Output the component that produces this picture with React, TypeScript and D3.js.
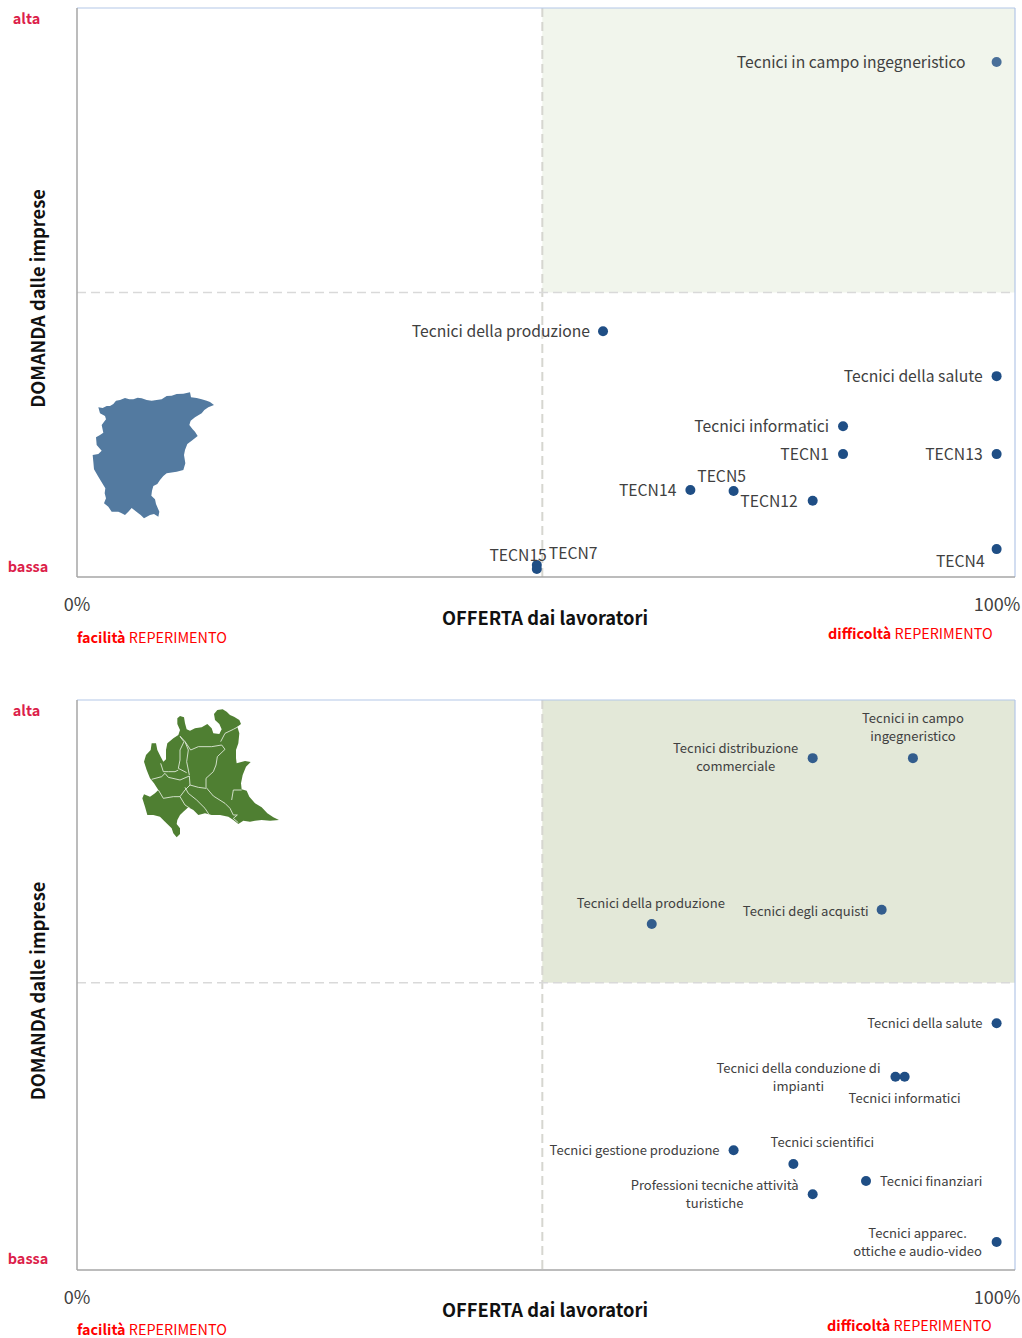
import React from "react";
import * as d3 from "d3";

const FONT = "'Noto Sans CJK SC', 'Noto Sans', sans-serif";

// Panel 1
const names1 = ["Tecnici in campo ingegneristico", "Tecnici della produzione", "Tecnici della salute", "Tecnici informatici", "TECN1", "TECN13", "TECN5", "TECN14", "TECN12", "TECN15", "TECN7", "TECN4"];
const offerta1 = [100, 57.2, 100, 83.3, 83.3, 100, 71.4, 66.7, 80, 50, 50, 100];
const domanda1 = [90.5, 43.2, 35.3, 26.5, 21.6, 21.6, 15.1, 15.3, 13.4, 2.1, 1.4, 4.9];
// [anchor, dx, dy] of each label relative to its point
const labels1: [string, number, number][] = [["end", -31, 0], ["end", -13, 0], ["end", -14, 0], ["end", -14, 0], ["end", -14, 0], ["end", -14, 0], ["middle", -12, -15], ["end", -14, 0], ["end", -15, 0], ["end", 10, -10], ["start", 12, -16], ["end", -12, 12]];

// Panel 2
const names2 = ["Tecnici in campo\ningegneristico", "Tecnici distribuzione\ncommerciale", "Tecnici della produzione", "Tecnici degli acquisti", "Tecnici della salute", "Tecnici della conduzione di\nimpianti", "Tecnici informatici", "Tecnici gestione produzione", "Tecnici scientifici", "Professioni tecniche attività\nturistiche", "Tecnici finanziari", "Tecnici apparec.\nottiche e audio-video"];
const offerta2 = [90.9, 80, 62.5, 87.5, 100, 89, 90, 71.4, 77.9, 80, 85.8, 100];
const domanda2 = [89.8, 89.8, 60.7, 63.2, 43.3, 33.9, 33.9, 21, 18.6, 13.3, 15.6, 4.9];
const labels2: [string, number, number][] = [["middle", 0, -31], ["middle", -77, -1], ["middle", -1, -21], ["end", -13, 1], ["end", -14, 0], ["middle", -97, 0], ["middle", 0, 21], ["end", -14, 0], ["middle", 29, -22], ["middle", -98, 0], ["start", 14, 0], ["middle", -79, 0]];

// Map outlines
const bergamo: [number, number][] = [[85,82],[98,84],[110,78],[120,78],[130,72],[138,62],[150,60],[165,54],[178,58],[190,58],[203,53],[215,55],[230,60],[245,62],[260,60],[275,58],[290,48],[305,47],[320,42],[340,41],[360,37],[363,52],[380,54],[395,58],[410,62],[420,66],[432,75],[415,82],[403,90],[395,100],[375,112],[362,122],[358,135],[368,148],[375,155],[383,168],[365,182],[352,192],[345,210],[342,225],[346,250],[340,270],[320,275],[290,280],[280,288],[270,300],[262,312],[250,318],[246,332],[244,347],[255,358],[258,372],[268,395],[265,410],[252,402],[240,405],[222,415],[212,405],[205,400],[185,384],[175,395],[165,405],[152,398],[145,395],[125,395],[115,380],[102,370],[108,355],[104,340],[106,325],[100,315],[85,290],[72,268],[70,245],[68,225],[85,222],[95,212],[80,195],[78,172],[90,165],[100,158],[95,135],[108,118],[105,108],[90,100]];
const lombardia: [number, number][] = [[142,55],[150,48],[162,52],[165,70],[170,88],[180,92],[195,85],[215,82],[232,72],[245,85],[250,100],[268,102],[275,88],[268,72],[255,60],[252,42],[262,30],[278,28],[290,35],[300,45],[312,50],[328,60],[333,72],[322,80],[328,100],[325,130],[318,150],[318,175],[320,190],[345,183],[362,186],[348,200],[338,225],[333,250],[335,268],[350,272],[358,290],[375,310],[395,322],[412,340],[430,352],[447,360],[420,362],[395,360],[375,362],[360,365],[340,362],[325,372],[310,360],[295,350],[270,345],[245,345],[225,340],[205,345],[190,330],[175,322],[160,335],[150,345],[142,360],[140,372],[150,385],[150,402],[140,412],[130,400],[125,385],[105,365],[90,350],[70,345],[52,345],[45,320],[37,295],[42,283],[60,290],[75,280],[85,270],[72,250],[60,235],[50,210],[42,185],[48,165],[62,150],[65,130],[78,130],[82,150],[92,170],[100,185],[108,178],[108,150],[112,130],[130,115],[145,105],[150,90],[142,72]];
const lombardiaBorders: [number, number][][] = [
  [[150,108],[165,125],[172,135],[182,150],[205,140],[245,140],[275,135],[285,148]],
  [[272,125],[285,100],[310,88],[325,80]],
  [[150,110],[162,125],[150,150],[150,180],[145,205],[170,218]],
  [[165,125],[175,150],[170,185],[178,225]],
  [[285,148],[262,170],[258,195],[250,215],[228,235],[228,262],[250,288],[285,310],[300,325],[310,345],[322,345],[310,355],[325,368]],
  [[178,228],[180,255],[205,262],[228,265]],
  [[92,190],[100,215],[115,215],[135,215],[145,210]],
  [[65,238],[95,230],[105,220],[115,232],[150,240],[178,228]],
  [[85,270],[100,295],[130,290],[150,290],[165,270],[180,255]],
  [[165,262],[175,280],[200,300],[225,325],[238,345]],
  [[150,290],[165,315],[180,325]],
  [[305,300],[310,270],[335,270]],
];

const W = 1022, H = 1338;
const line = d3.line().curve(d3.curveLinear);
const TXT = "#404040";

function Multi({ x, y, anchor, text, size }: any) {
  const rows = text.split("\n");
  const lh = 18;
  return (
    <text x={x} y={y - 1 - ((rows.length - 1) * lh) / 2} textAnchor={anchor} fontSize={size} fill={TXT} dominantBaseline="central">
      {rows.map((r: string, i: number) => (
        <tspan key={i} x={x} dy={i === 0 ? 0 : lh}>{r}</tspan>
      ))}
    </text>
  );
}

function Panel({ top, bottom, names, xs, ys, labels, size, shade, yMid, capX, capY, pctY, titleY, altaY, bassaY, dotOp }: any) {
  const x = d3.scaleLinear().domain([0, 102]).range([77, 1015]);
  const y = d3.scaleLinear().domain([0, 100]).range([bottom, top]);
  const mx = x(50.6), my = y(yMid);
  return (
    <g>
      <rect x={mx} y={top} width={1015 - mx} height={my - top} fill={shade} />
      <line x1={mx} x2={mx} y1={top} y2={bottom} stroke="#d6d6d0" strokeWidth={2} strokeDasharray="9 5" />
      <line x1={77} x2={1015} y1={my} y2={my} stroke="#d9d9d9" strokeWidth={1.6} strokeDasharray="9 5" />
      <line x1={77} x2={1015} y1={top} y2={top} stroke="#b4c7e7" strokeWidth={1.2} />
      <line x1={1015} x2={1015} y1={top} y2={bottom} stroke="#b4c7e7" strokeWidth={1.2} />
      <line x1={77} x2={1015} y1={bottom} y2={bottom} stroke="#a6a6a6" strokeWidth={1.5} />
      <line x1={77} x2={77} y1={top} y2={bottom} stroke="#a6a6a6" strokeWidth={1.5} />
      {names.map((n: string, i: number) => (
        <circle key={n} cx={x(xs[i])} cy={y(ys[i])} r={5} fill="#1f4e85" fillOpacity={dotOp[i] ?? 1} />
      ))}
      {names.map((n: string, i: number) => (
        <Multi key={n} x={x(xs[i]) + labels[i][1]} y={y(ys[i]) + labels[i][2]} anchor={labels[i][0]} text={n} size={size} />
      ))}
      <text x={26.5} y={altaY} textAnchor="middle" dominantBaseline="central" fontSize={14.5} fontWeight={700} fill="#dc1f4b">alta</text>
      <text x={28} y={bassaY} textAnchor="middle" dominantBaseline="central" fontSize={14.5} fontWeight={700} fill="#dc1f4b">bassa</text>
      <text x={77} y={pctY} textAnchor="middle" dominantBaseline="central" fontSize={18} fill={TXT}>0%</text>
      <text x={997} y={pctY} textAnchor="middle" dominantBaseline="central" fontSize={18} fill={TXT}>100%</text>
      <text x={545} y={titleY} textAnchor="middle" dominantBaseline="central" fontSize={18.3} fontWeight={700} fill="#111">OFFERTA dai lavoratori</text>
      <text transform={`translate(37,${(top + bottom) / 2 + 6}) rotate(-90)`} textAnchor="middle" dominantBaseline="central" fontSize={18.3} fontWeight={700} fill="#111">DOMANDA dalle imprese</text>
      <text x={77} y={capY[0]} dominantBaseline="central" fontSize={14.4} fill="#ff0000"><tspan fontWeight={700}>facilità</tspan> REPERIMENTO</text>
      <text x={capX} y={capY[1]} dominantBaseline="central" fontSize={14.4} fill="#ff0000"><tspan fontWeight={700}>difficoltà</tspan> REPERIMENTO</text>
    </g>
  );
}

export default function App() {
  const zoomed = (pts: [number, number][], ox: number, oy: number) =>
    line(pts.map(([a, b]) => [ox + a / 3, oy + b / 3] as [number, number]))!;
  return (
    <svg width={W} height={H} viewBox={`0 0 ${W} ${H}`} style={{ position: "absolute", left: 0, top: 0, fontFamily: FONT }}>
      <defs>
        <filter id="soft" x="-5%" y="-5%" width="110%" height="110%">
          <feGaussianBlur stdDeviation="0.45" />
        </filter>
      </defs>
      <rect width={W} height={H} fill="#fff" />
      <Panel top={8} bottom={577} names={names1} xs={offerta1} ys={domanda1} labels={labels1} size={15.7} shade="#f1f5ec" yMid={50} capX={828} capY={[636, 632]} pctY={603} titleY={617} altaY={17.5} bassaY={565} dotOp={[0.8]} />
      <Panel top={700} bottom={1270} names={names2} xs={offerta2} ys={domanda2} labels={labels2} size={13.05} shade="#e3e8d8" yMid={50.4} capX={827} capY={[1328, 1324]} pctY={1296} titleY={1309} altaY={709.5} bassaY={1257} dotOp={[0.9, 0.9, 0.9, 0.9]} />
      <path d={zoomed(bergamo, 70, 380) + "Z"} fill="#527aa0" filter="url(#soft)" />
      <g filter="url(#soft)">
        <path d={zoomed(lombardia, 130, 700) + "Z"} fill="#4f7f32" />
        {lombardiaBorders.map((b, i) => (
          <path key={i} d={zoomed(b, 130, 700)} fill="none" stroke="#dfe9d8" strokeWidth={0.9} />
        ))}
      </g>
    </svg>
  );
}
